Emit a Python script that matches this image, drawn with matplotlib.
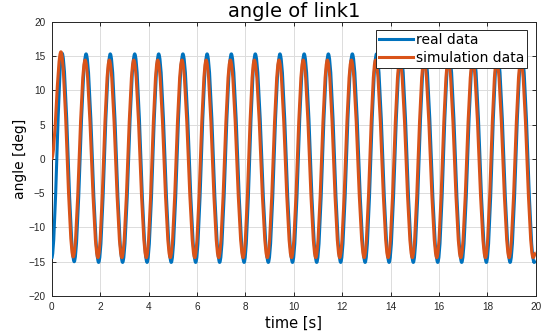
import matplotlib

matplotlib.use("Agg")
import matplotlib.pyplot as plt
from matplotlib.lines import Line2D
from matplotlib.patches import PathPatch
from matplotlib.path import Path

# turning points (time [s], angle [deg])
real_t = [0.0, 0.43, 0.93, 1.42, 1.94, 2.42, 2.93, 3.43, 3.94, 4.42, 4.94,
          5.42, 5.95, 6.42, 6.94, 7.42, 7.95, 8.41, 8.95, 9.43, 9.95, 10.43,
          10.95, 11.43, 11.94, 12.42, 12.95, 13.42, 13.94, 14.42, 14.94,
          15.42, 15.95, 16.42, 16.94, 17.43, 17.96, 18.42, 18.94, 19.42,
          19.93, 20.0]
real_v = [-14.5, 15.4, -15.0, 15.3, -15.1, 15.3, -15.1, 15.3, -15.1, 15.3,
          -15.1, 15.3, -15.1, 15.3, -15.1, 15.3, -15.1, 15.3, -15.1, 15.3,
          -15.1, 15.3, -15.1, 15.3, -15.1, 15.3, -15.1, 15.3, -15.1, 15.3,
          -15.1, 15.3, -15.1, 15.3, -15.1, 15.3, -15.1, 15.3, -15.1, 15.3,
          -15.1, -14.9]

sim_t = [0.0, 0.38, 0.89, 1.38, 1.91, 2.38, 2.9, 3.39, 3.91, 4.38, 4.9,
         5.38, 5.91, 6.38, 6.9, 7.38, 7.91, 8.37, 8.91, 9.39, 9.91, 10.39,
         10.91, 11.39, 11.9, 12.38, 12.91, 13.38, 13.9, 14.38, 14.9, 15.38,
         15.91, 16.38, 16.9, 17.39, 17.92, 18.38, 18.9, 19.38, 19.89, 20.0]
sim_v = [0.0, 15.6, -14.3, 14.4, -14.4, 14.4, -14.4, 14.4, -14.4, 14.4,
         -14.4, 14.4, -14.4, 14.4, -14.4, 14.4, -14.4, 14.4, -14.4, 14.4,
         -14.4, 14.4, -14.4, 14.4, -14.4, 14.4, -14.4, 14.4, -14.4, 14.4,
         -14.4, 14.4, -14.4, 14.4, -14.4, 14.4, -14.4, 14.4, -14.4, 14.4,
         -14.4, -13.7]

labels = ["real data", "simulation data"]
colors = ["#0072BD", "#D95319"]


def smooth_path(ts, vs, a=0.363):
    # cubic bezier between turning points, flat tangent at each one
    verts = [(ts[0], vs[0])]
    codes = [Path.MOVETO]
    for i in range(1, len(ts)):
        dt = ts[i] - ts[i - 1]
        verts += [(ts[i - 1] + a * dt, vs[i - 1]), (ts[i] - a * dt, vs[i]), (ts[i], vs[i])]
        codes += [Path.CURVE4] * 3
    return Path(verts, codes)


plt.rcParams["font.family"] = ["Liberation Sans", "DejaVu Sans"]
fig = plt.figure(figsize=(5.47, 3.33), dpi=100)
ax = fig.add_axes([0.0945, 0.111, 0.885, 0.824])

for ts, vs, c in zip([real_t, sim_t], [real_v, sim_v], colors):
    ax.add_patch(PathPatch(smooth_path(ts, vs), fill=False, edgecolor=c,
                           lw=2.2, joinstyle="round", capstyle="butt", zorder=3))

ax.set_xlim(0, 20)
ax.set_ylim(-20, 20)
ax.set_xticks(range(0, 21, 2))
ax.set_yticks(range(-20, 21, 5))
ax.grid(True, color="#dcdcdc", lw=0.7)
ax.set_axisbelow(True)
ax.tick_params(direction="in", top=True, right=True, length=3, width=0.7,
               labelsize=7.2, colors="#262626", pad=4.5)
for s in ax.spines.values():
    s.set_color("#262626")
    s.set_linewidth(0.7)

ax.set_title("angle of link1", fontsize=14, family="DejaVu Sans", pad=3)
ax.set_xlabel("time [s]", fontsize=10.5, family="DejaVu Sans", labelpad=2.5)
ax.set_ylabel("angle [deg]", fontsize=10, family="DejaVu Sans", labelpad=1)

handles = [Line2D([], [], color=c, lw=2.2) for c in colors]
ax.legend(handles, labels, loc="upper right", frameon=True,
          fancybox=False, edgecolor="#262626", framealpha=1, borderaxespad=0.6,
          handlelength=2.4, handletextpad=0.25, borderpad=0.22, labelspacing=0.28,
          prop={"family": "DejaVu Sans", "size": 10})
ax.get_legend().get_frame().set_linewidth(0.7)

fig.savefig("out.png", dpi=100)
